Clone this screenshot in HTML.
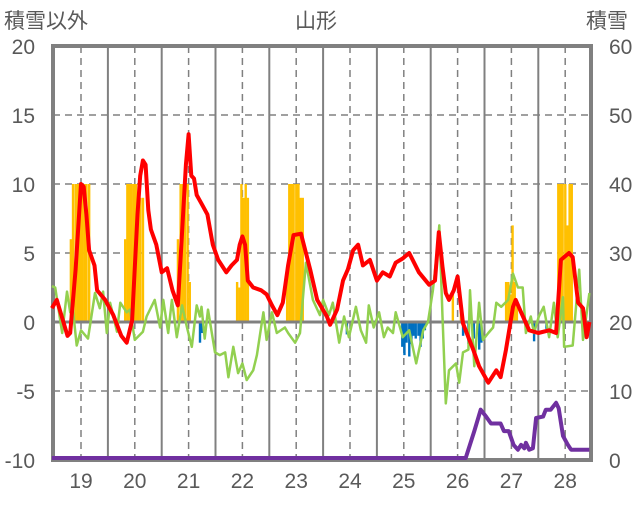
<!DOCTYPE html>
<html><head><meta charset="utf-8">
<style>
body{margin:0;background:#fff;width:636px;height:501px;overflow:hidden}
svg text{font-family:"Liberation Sans","Noto Sans CJK JP",sans-serif;fill:#595959}
</style></head>
<body>
<svg id="chart" width="636" height="501"></svg>
<script>
const days=[19,20,21,22,23,24,25,26,27,28];
const leftTicks=[20,15,10,5,0,-5,-10];
const rightTicks=[60,50,40,30,20,10,0];
const redT=[18.46,18.55,18.65,18.75,18.8,18.9,19.0,19.05,19.1,19.15,19.25,19.3,19.45,19.6,19.75,19.85,19.95,20.05,20.1,20.15,20.2,20.25,20.3,20.4,20.5,20.6,20.7,20.8,20.85,20.95,21.0,21.05,21.1,21.15,21.25,21.35,21.45,21.55,21.7,21.8,21.9,21.95,22.0,22.05,22.1,22.2,22.35,22.45,22.55,22.65,22.75,22.85,22.95,23.09,23.26,23.39,23.57,23.63,23.76,23.87,23.96,24.06,24.15,24.24,24.37,24.5,24.61,24.74,24.85,24.98,25.1,25.28,25.47,25.58,25.65,25.72,25.78,25.84,25.93,26.0,26.1,26.29,26.4,26.57,26.72,26.8,26.9,27.03,27.08,27.18,27.33,27.5,27.7,27.83,27.92,28.07,28.14,28.24,28.33,28.4,28.45];
const redV=[1.0,1.6,0.3,-1,-0.8,3.8,10,9.8,7.8,5.2,4.1,2.3,1.6,0.5,-1,-1.5,0.1,7.8,10.6,11.7,11.4,8.1,6.7,5.6,3.6,3.9,2.3,1.2,4.5,11.4,13.6,10.6,10.4,9.2,8.5,7.8,5.6,4.5,3.6,4.1,4.5,5.6,6.2,5.6,3.0,2.5,2.3,2.0,1.2,0.5,1.4,4.1,6.3,6.4,3.8,1.6,0.4,-0.2,0.9,3.0,3.8,5.2,5.6,4.1,4.5,3.0,3.6,3.3,4.3,4.6,5.0,3.6,2.7,3.0,6.5,4.0,2.1,1.6,2.3,3.3,-0.1,-2,-3.2,-4.4,-3.5,-4,-2,1.1,1.6,0.7,-0.6,-0.8,-0.6,-0.8,4.5,5,4.7,1.4,1,-1.1,0];
const greenT=[18.46,18.52,18.65,18.74,18.8,18.83,18.92,19.0,19.13,19.26,19.35,19.41,19.48,19.54,19.67,19.73,19.85,19.91,20.0,20.15,20.22,20.37,20.47,20.53,20.62,20.69,20.78,20.88,20.97,21.06,21.15,21.21,21.24,21.3,21.36,21.49,21.58,21.68,21.74,21.83,21.92,22.0,22.08,22.2,22.27,22.39,22.45,22.55,22.64,22.79,22.85,22.98,23.07,23.18,23.31,23.44,23.5,23.61,23.68,23.8,23.89,23.98,24.11,24.2,24.3,24.35,24.44,24.54,24.63,24.7,24.8,24.85,24.98,25.1,25.23,25.36,25.45,25.54,25.62,25.66,25.72,25.78,25.84,25.97,26.03,26.1,26.2,26.23,26.31,26.4,26.47,26.57,26.66,26.72,26.81,26.94,27.03,27.12,27.21,27.27,27.36,27.42,27.51,27.6,27.7,27.79,27.86,27.96,27.98,28.14,28.26,28.33,28.45];
const greenV=[2.6,2.5,-0.8,2.2,0.7,1.6,-1.7,-0.6,-1.2,2.1,1,2.2,-0.8,1.4,-0.7,1.4,0.7,0.9,-1.3,-0.7,0.4,1.6,-0.4,1.6,-0.8,1.6,-1.1,1.2,-0.4,-1.8,1.2,0.4,1.1,-1.2,0.9,-2.2,-2.4,-2.2,-4,-1.8,-3.7,-3,-4.2,-3.5,-2.4,0.7,-1.3,0.7,-0.8,-0.4,-0.8,-1.5,-0.8,4.3,1.6,0.5,1.6,0.5,1.4,-1.5,0.4,-1.1,1.1,-0.6,-1.5,1.2,-0.4,0.7,-1.1,-0.4,-0.8,0.7,-1.1,-0.6,-3,-0.6,0,2.3,5.2,7,0.4,-5.9,-3.5,-3,-4.4,-2.2,-2,2.3,-3.2,1.4,-1.3,-0.8,-0.4,1.4,1.1,1.6,3.5,2.5,2.5,-0.8,0.4,-0.8,0.4,1.1,-1.1,1.4,-1.1,1.8,-1.8,-1.7,3.8,-1.3,2.1];
const purpleT=[18.46,26.15,26.31,26.43,26.53,26.62,26.8,26.86,26.95,27.04,27.12,27.18,27.24,27.27,27.33,27.4,27.46,27.59,27.64,27.73,27.83,27.88,27.96,28.05,28.11,28.45];
const purpleV=[0,0,3.9,7,6,5,5,3.9,3.9,1.9,1.2,1.9,1.4,2.2,1.2,1.4,5.8,6,7,7,8,7.2,3.2,1.9,1.2,1.2];
const orangeT=[18.81,18.85,18.9,18.94,18.98,19.02,19.06,19.1,19.15,19.82,19.86,19.9,19.94,19.98,20.02,20.06,20.1,20.15,20.8,20.85,20.89,20.93,20.98,21.02,21.9,21.94,21.98,22.02,22.06,22.1,22.83,22.87,22.91,22.95,23.0,23.04,23.08,23.12,25.91,26.06,26.9,26.94,26.98,27.02,27.06,27.1,27.87,27.91,27.95,28.0,28.04,28.08,28.12];
const orangeV=[6,10,10,10,10,10,10,10,10,6,10,10,10,10,10,9,9,9,6,10,10,10,10,2.9,2.9,2.5,10,9,10,9,4,10,10,10,10,10,9,9,2.3,1.5,2.9,2.9,2.0,7,2.9,1.6,10,10,10,10,7,10,10];
const blueT=[21.21,21.25,23.94,24.97,25.01,25.05,25.1,25.14,25.18,25.22,25.27,25.31,25.35,25.39,26.1,26.2,26.3,26.4,26.44,27.42,27.65];
const blueV=[-1.5,-0.8,-0.9,-1.8,-2.4,-1.5,-2.5,-1.6,-1.0,-1.2,-1.0,-1.8,-1.2,-0.6,-1.0,-1.6,-1.2,-2.0,-1.5,-1.4,-0.5];

const NS='http://www.w3.org/2000/svg';
const svg=document.getElementById('chart');
const L=53,R=591,T=46,B=460;
const x=t=>81+(t-19)*53.8;
const yL=v=>322-v*13.8;
const yR=s=>458-s*6.9;
function mk(tag,attrs,parent){const e=document.createElementNS(NS,tag);for(const k in attrs)e.setAttribute(k,attrs[k]);(parent||svg).appendChild(e);return e;}
const clip=mk('clipPath',{id:'pc'});mk('rect',{x:L,y:T,width:R-L,height:B-T},clip);

leftTicks.forEach(v=>{if(v===20||v===-10||v===0)return;
 const g=mk('line',{x1:L,x2:R,y1:yL(v),y2:yL(v),stroke:'#808080','stroke-width':1.5,'stroke-dasharray':'7,5'});
 
 });
days.slice(0,9).forEach(d=>{const g=mk('line',{x1:x(d+0.5),x2:x(d+0.5),y1:T,y2:B,stroke:'#808080','stroke-width':2});
 
 });
days.forEach(d=>{const g=mk('line',{x1:x(d),x2:x(d),y1:T,y2:B,stroke:'#808080','stroke-width':1.5,'stroke-dasharray':'7,5'});
 
 });

const gp=mk('g',{'clip-path':'url(#pc)'});
orangeT.forEach((t,i)=>{const v=orangeV[i];const r=mk('rect',{x:x(t)-1.1,y:yL(v),width:2.4,height:yL(0)-yL(v),fill:'#FFC000'},gp);
 
 });
blueT.forEach((t,i)=>{const v=blueV[i];const r=mk('rect',{x:x(t)-1.1,y:yL(0),width:2.4,height:yL(v)-yL(0),fill:'#0070C0'},gp);
 
 });
const z=mk('line',{x1:L,x2:R,y1:yL(0),y2:yL(0),stroke:'#808080','stroke-width':3});



const f=mk('rect',{x:L,y:T,width:R-L,height:B-T,fill:'none',stroke:'#808080','stroke-width':4});



const gp2=mk('g',{});
function line(ts,vs,fy,color,w,name){const p=mk('polyline',{points:ts.map((t,i)=>x(t).toFixed(1)+','+fy(vs[i]).toFixed(1)).join(' '),fill:'none',stroke:color,'stroke-width':w,'stroke-linejoin':'round'},gp2);
 
 }
line(greenT,greenV,yL,'#92D050',2.5,'green-series-line');
line(redT,redV,yL,'#FF0000',4,'red-series-line');
line(purpleT,purpleV,yR,'#7030A0',4,'snow-depth-line');

leftTicks.forEach(v=>{const t=mk('text',{x:35,y:yL(v)+8,'text-anchor':'end','font-size':21});t.textContent=v;
 
 });
rightTicks.forEach(v=>{const t=mk('text',{x:609,y:460-v*6.9+8,'font-size':21});t.textContent=v;
 
 });
days.forEach(d=>{const t=mk('text',{x:x(d),y:488,'text-anchor':'middle','font-size':21});t.textContent=d;
 
 });
const tt=[['積雪以外',4,28,'start','left-axis-title'],['山形',316,28,'middle','chart-title'],['積雪',586,28,'start','right-axis-title']];
tt.forEach(a=>{const t=mk('text',{x:a[1],y:a[2],'text-anchor':a[3],'font-size':21});t.textContent=a[0];
 
 });
</script>
</body></html>
